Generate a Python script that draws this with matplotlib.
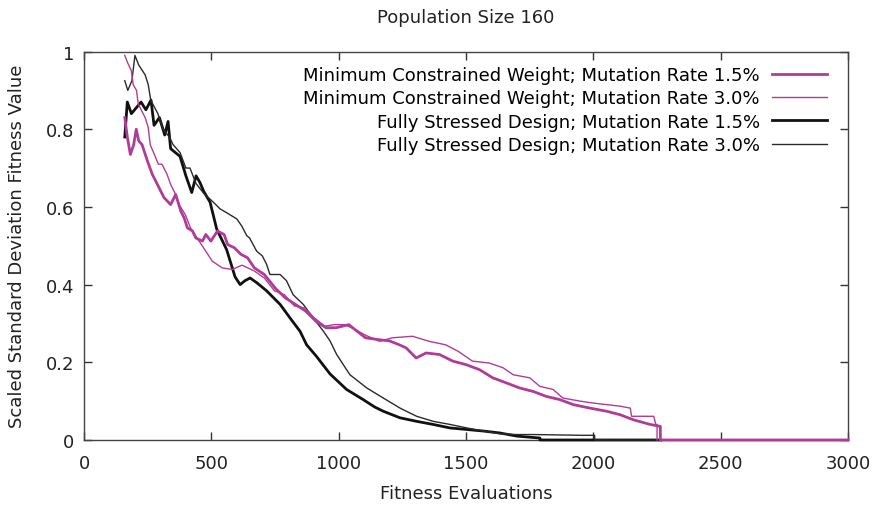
import matplotlib
matplotlib.use("Agg")
import matplotlib.pyplot as plt

title = "Population Size 160"
x_label = "Fitness Evaluations"
y_label = "Scaled Standard Deviation Fitness Value"
x_ticks = [0, 500, 1000, 1500, 2000, 2500, 3000]
y_ticks = [0, 0.2, 0.4, 0.6, 0.8, 1.0]
y_tick_labels = ["0", "0.2", "0.4", "0.6", "0.8", "1"]

labels = [
    "Minimum Constrained Weight; Mutation Rate 1.5%",
    "Minimum Constrained Weight; Mutation Rate 3.0%",
    "Fully Stressed Design; Mutation Rate 1.5%",
    "Fully Stressed Design; Mutation Rate 3.0%",
]

mcw15_x = [160, 170, 182, 195, 205, 215, 228, 248, 268, 288, 314, 340, 360, 380, 393, 406, 426, 439,
           465, 478, 498, 524, 550, 564, 590, 616, 642, 669, 708, 752, 790, 830, 870, 910, 950, 990,
           1040, 1055, 1105, 1160, 1200, 1238, 1265, 1304, 1343, 1396, 1448, 1500, 1553, 1605, 1658,
           1710, 1763, 1816, 1868, 1921, 1987, 2052, 2105, 2157, 2223, 2263, 2263, 3000]
mcw15_y = [0.83, 0.78, 0.735, 0.76, 0.80, 0.77, 0.76, 0.72, 0.684, 0.658, 0.624, 0.606, 0.632, 0.589,
           0.572, 0.546, 0.538, 0.52, 0.512, 0.529, 0.512, 0.538, 0.529, 0.503, 0.495, 0.478, 0.469,
           0.443, 0.426, 0.39, 0.366, 0.349, 0.332, 0.306, 0.289, 0.289, 0.297, 0.289, 0.263, 0.258,
           0.255, 0.245, 0.237, 0.211, 0.224, 0.22, 0.203, 0.194, 0.181, 0.16, 0.147, 0.134, 0.125,
           0.112, 0.104, 0.091, 0.082, 0.074, 0.065, 0.052, 0.04, 0.035, 0.0, 0.0]

mcw30_x = [160, 172, 186, 193, 206, 213, 226, 240, 252, 260, 273, 292, 306, 326, 340, 360, 373, 398,
           418, 444, 478, 504, 543, 582, 620, 669, 708, 748, 787, 826, 866, 905, 945, 984, 1024,
           1050, 1105, 1160, 1210, 1290, 1355, 1420, 1470, 1525, 1592, 1645, 1685, 1750, 1790, 1842,
           1880, 1948, 2000, 2105, 2145, 2150, 2237, 2245, 2250, 2250]
mcw30_y = [0.99, 0.97, 0.95, 0.915, 0.90, 0.865, 0.848, 0.83, 0.805, 0.76, 0.74, 0.71, 0.71, 0.684,
           0.658, 0.632, 0.606, 0.58, 0.546, 0.52, 0.486, 0.46, 0.443, 0.439, 0.45, 0.435, 0.417,
           0.384, 0.374, 0.345, 0.34, 0.314, 0.293, 0.297, 0.297, 0.289, 0.27, 0.254, 0.263, 0.267,
           0.254, 0.245, 0.228, 0.203, 0.198, 0.186, 0.168, 0.16, 0.138, 0.13, 0.108, 0.10, 0.095,
           0.087, 0.082, 0.061, 0.061, 0.04, 0.04, 0.0]

fsd15_x = [160, 170, 186, 205, 224, 243, 263, 275, 296, 317, 330, 340, 377, 400, 423, 440, 455, 470,
           495, 521, 560, 593, 613, 632, 652, 678, 717, 770, 809, 848, 874, 913, 966, 1031, 1096,
           1141, 1175, 1241, 1306, 1371, 1437, 1503, 1568, 1633, 1699, 1790, 1790, 2265]
fsd15_y = [0.78, 0.87, 0.84, 0.855, 0.87, 0.85, 0.875, 0.81, 0.83, 0.785, 0.82, 0.75, 0.73, 0.68,
           0.637, 0.68, 0.663, 0.64, 0.612, 0.543, 0.49, 0.42, 0.40, 0.41, 0.417, 0.405, 0.384, 0.349,
           0.314, 0.28, 0.245, 0.215, 0.17, 0.13, 0.104, 0.085, 0.074, 0.057, 0.048, 0.04, 0.031,
           0.027, 0.023, 0.018, 0.01, 0.005, 0.0, 0.0]

fsd30_x = [160, 172, 188, 200, 215, 240, 252, 262, 290, 310, 335, 350, 377, 400, 416, 440, 470, 508,
           534, 560, 600, 620, 639, 650, 678, 700, 717, 730, 770, 795, 821, 861, 900, 940, 966, 992,
           1044, 1110, 1175, 1241, 1306, 1371, 1437, 1503, 1568, 1633, 1699, 1766, 1960, 2005, 2005,
           2265]
fsd30_y = [0.925, 0.90, 0.925, 0.99, 0.965, 0.94, 0.915, 0.875, 0.84, 0.80, 0.78, 0.76, 0.74, 0.70,
           0.70, 0.66, 0.635, 0.612, 0.595, 0.585, 0.569, 0.55, 0.526, 0.52, 0.486, 0.474, 0.452,
           0.426, 0.426, 0.41, 0.374, 0.349, 0.314, 0.28, 0.255, 0.22, 0.168, 0.134, 0.108, 0.082,
           0.061, 0.048, 0.04, 0.031, 0.023, 0.016, 0.014, 0.014, 0.012, 0.012, 0.0, 0.0]

magenta = "#b03c98"
fs = 13

plt.rcParams["font.family"] = ["DejaVu Sans"]
fig = plt.figure(figsize=(8.77, 5.06), dpi=100)
ax = fig.add_axes([0.0958, 0.1285, 0.967 - 0.0958, 0.8962 - 0.1285])

ax.plot(fsd15_x, fsd15_y, color="#111111", lw=2.0, label=labels[2], zorder=3)
ax.plot(fsd30_x, fsd30_y, color="#2a2a2a", lw=1.0, label=labels[3], zorder=3)
ax.plot(mcw15_x, mcw15_y, color=magenta, lw=2.0, label=labels[0], zorder=4)
ax.plot(mcw30_x, mcw30_y, color=magenta, lw=1.0, label=labels[1], zorder=4)

for ln in ax.lines:
    ln.set_clip_on(False)

ax.set_xlim(0, 3000)
ax.set_ylim(0, 1)
ax.set_xticks(x_ticks)
ax.set_yticks(y_ticks)
ax.set_yticklabels(y_tick_labels)
ax.tick_params(direction="in", length=6, width=1, top=True, right=True, labelsize=fs,
               colors="#333333", labelcolor="#222222")
ax.tick_params(axis="x", pad=10)
ax.tick_params(axis="y", pad=7)
for s in ax.spines.values():
    s.set_color("#444444")
    s.set_linewidth(1.0)

ax.set_title(title, fontsize=fs, color="#222222", pad=21)
ax.set_xlabel(x_label, fontsize=fs, color="#222222", labelpad=9)
ax.set_ylabel(y_label, fontsize=fs, color="#222222", labelpad=14)

handles, labs = ax.get_legend_handles_labels()
order = [labs.index(l) for l in labels]
ax.legend([handles[i] for i in order], [labs[i] for i in order], loc="upper right",
          bbox_to_anchor=(1 - 7 / 764, 1.0),
          markerfirst=False, frameon=False, fontsize=fs, handlelength=3.0,
          handletextpad=0.7, labelspacing=0.3, borderaxespad=0.5, borderpad=0.3)

fig.savefig("out.png", dpi=100)
